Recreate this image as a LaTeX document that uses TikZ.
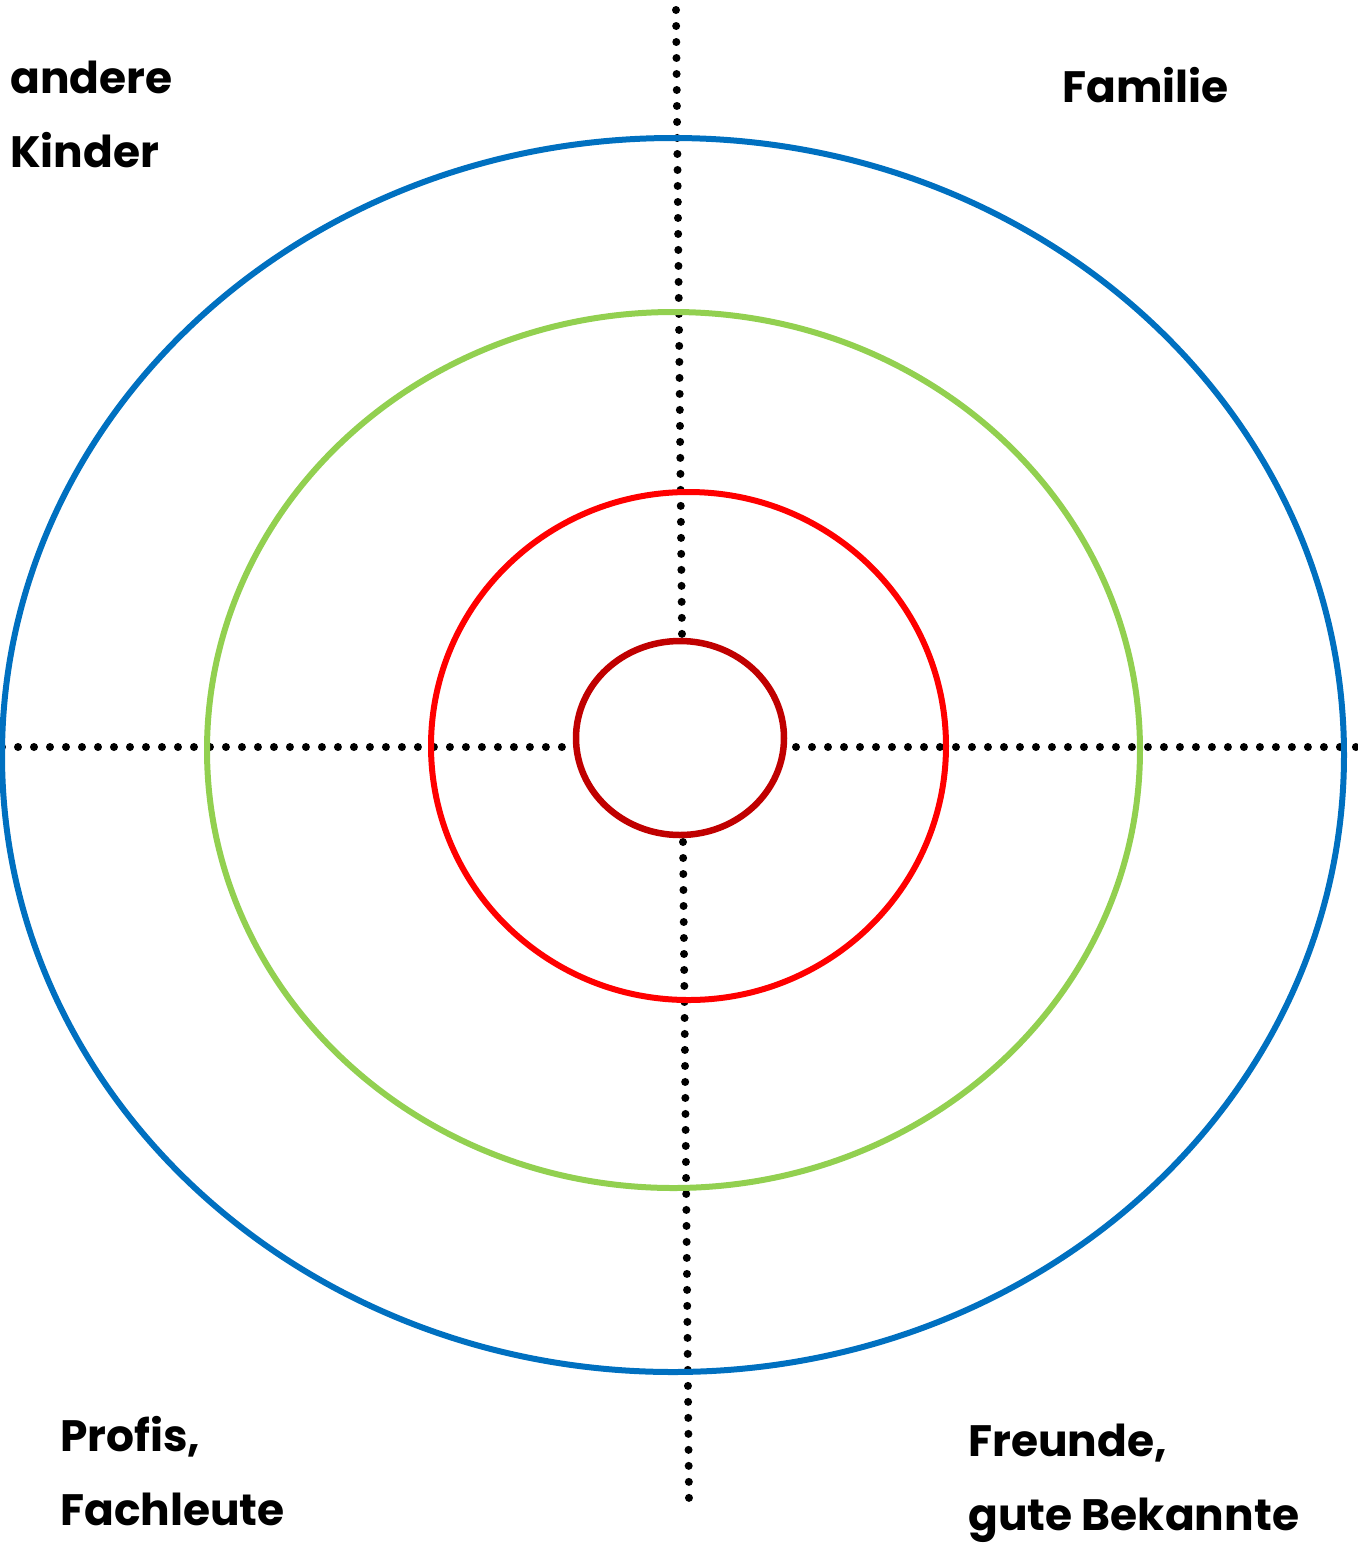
\documentclass[tikz,border=0pt]{standalone}
\usepackage{fontspec}
\setmainfont{Poppins}
\definecolor{ringblue}{HTML}{0070C0}
\definecolor{ringgreen}{HTML}{92D050}
\definecolor{ringred}{HTML}{FF0000}
\definecolor{ringdark}{HTML}{C00000}
\begin{document}
\begin{tikzpicture}[x=0.02cm, y=-0.02cm,
    ring/.style={line width=0.12cm},
    dots/.style={line width=0.16cm, line cap=round, dash pattern=on 0pt off 0.32cm},
    lbl/.style={anchor=base west, align=left, inner sep=0pt, font=\bfseries\fontsize{25}{42}\selectfont}]
    \useasboundingbox (0,0) rectangle (1358,1543);

    % axes
    \coordinate (top) at (676,10);
    \coordinate (topend) at (682,636);
    \coordinate (bot) at (683,842);
    \coordinate (botend) at (689,1500);
    \coordinate (left) at (2,747);
    \coordinate (leftend) at (562,747);
    \coordinate (right) at (796,747);
    \coordinate (rightend) at (1356,747);
    \draw[dots] (top) -- (topend);
    \draw[dots] (bot) -- (botend);
    \draw[dots] (left) -- (leftend);
    \draw[dots] (right) -- (rightend);

    % rings
    \draw[ring, ringblue] (673,755) ellipse [x radius=671, y radius=617];
    \draw[ring, ringgreen] (673.5,750) ellipse [x radius=466.5, y radius=438];
    \draw[ring, ringred] (688.5,746) ellipse [x radius=257.5, y radius=254];
    \draw[ring, ringdark, line width=0.13cm] (680,738) ellipse [x radius=104, y radius=97];

    % base = last line
    \node[lbl] (kinder) at (10,167) {andere\\Kinder};
    \node[lbl] (familie) at (1062,102) {Familie};
    \node[lbl] (profis) at (60,1525) {Profis,\\Fachleute};
    \node[lbl] (freunde) at (968,1530) {Freunde,\\gute Bekannte};
\end{tikzpicture}
\end{document}
